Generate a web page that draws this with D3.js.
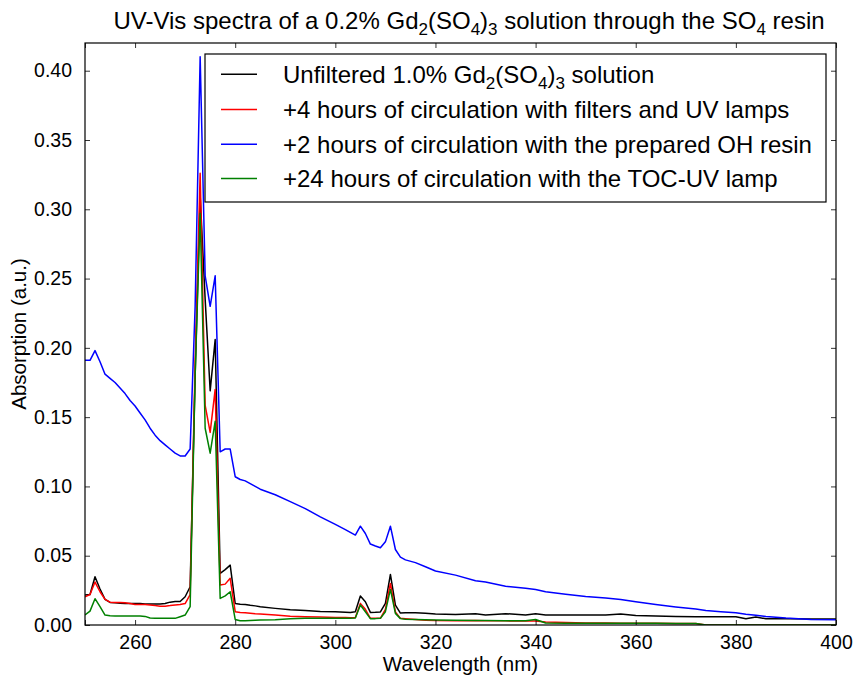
<!DOCTYPE html>
<html>
<head>
<meta charset="utf-8">
<script src="https://cdn.jsdelivr.net/npm/d3@7"></script>
<style>
  body { margin: 0; background: #fff; }
  svg { display: block; }
  text { font-family: "Liberation Sans", Arial, sans-serif; fill: #000; }
</style>
</head>
<body>
<svg id="chart" width="857" height="677"></svg>
<script>
// ---------- data ----------
const wavelength = [250,251,252,253,254,255,256,257,258,259,260,261,262,263,264,265,266,267,268,269,270,271,272,273,274,275,276,277,278,279,280,281,282,283,284,285,288,291,294,297,300,302,303,304,305,306,307,308,309,310,311,312,313,314,316,318,320,324,328,330,334,338,340,342,346,350,354,357,360,364,368,372,374,377,380,382,384,386,390,395,400];

const unfiltered = [0.0216,0.022,0.0348,0.026,0.0185,0.0163,0.016,0.0157,0.0155,0.0155,0.0155,0.0155,0.0152,0.0152,0.0152,0.0152,0.0155,0.0165,0.017,0.017,0.0204,0.0276,0.18,0.31,0.235,0.169,0.206,0.0372,0.040,0.0432,0.0155,0.015,0.0148,0.0142,0.0138,0.0132,0.012,0.011,0.0105,0.0098,0.0095,0.0092,0.0091,0.0095,0.0209,0.0168,0.0091,0.0092,0.0094,0.0156,0.0365,0.0144,0.0086,0.0088,0.0088,0.0085,0.008,0.0075,0.0082,0.0072,0.0082,0.0072,0.0082,0.0072,0.0072,0.0072,0.0072,0.008,0.0068,0.0065,0.0062,0.006,0.006,0.006,0.006,0.0045,0.0058,0.0045,0.0045,0.0044,0.0044];

const filtersUV = [0.0204,0.022,0.031,0.024,0.0185,0.0165,0.0163,0.0163,0.016,0.0155,0.0148,0.0148,0.0148,0.0145,0.014,0.0136,0.0136,0.014,0.0145,0.0148,0.0155,0.022,0.19,0.326,0.1585,0.139,0.17,0.0288,0.0295,0.0337,0.0096,0.009,0.0088,0.0085,0.0082,0.008,0.0072,0.0064,0.006,0.0058,0.0055,0.0054,0.0053,0.0055,0.0156,0.0113,0.0048,0.0048,0.0048,0.0113,0.030,0.0094,0.0048,0.0045,0.004,0.0035,0.0032,0.003,0.0032,0.003,0.003,0.0028,0.0028,0.0022,0.0018,0.0015,0.0014,0.0012,0.0013,0.0012,0.0011,0.001,0,0,0,0,0,0,0,0,0];

const ohResin = [0.191,0.191,0.198,0.190,0.181,0.178,0.175,0.171,0.167,0.162,0.158,0.153,0.148,0.142,0.137,0.133,0.130,0.127,0.124,0.122,0.122,0.127,0.23,0.41,0.252,0.23,0.252,0.125,0.127,0.127,0.107,0.105,0.104,0.102,0.100,0.098,0.094,0.089,0.084,0.078,0.0726,0.0688,0.0668,0.0649,0.0713,0.066,0.0584,0.057,0.0557,0.060,0.0713,0.0545,0.049,0.047,0.045,0.042,0.039,0.036,0.032,0.031,0.028,0.0265,0.0256,0.024,0.0222,0.0205,0.0195,0.0184,0.0168,0.0148,0.013,0.0115,0.0105,0.0096,0.0088,0.0078,0.007,0.0062,0.005,0.004,0.0038];

const tocUV = [0.0072,0.010,0.019,0.0132,0.0072,0.0066,0.0065,0.0065,0.0065,0.0065,0.0065,0.0065,0.0062,0.005,0.0048,0.0048,0.0048,0.0048,0.0048,0.006,0.0072,0.0132,0.18,0.297,0.142,0.124,0.147,0.0192,0.021,0.024,0.004,0.003,0.003,0.0032,0.0034,0.0036,0.0038,0.0045,0.0048,0.0048,0.0048,0.0048,0.0048,0.005,0.0144,0.0096,0.0046,0.0046,0.0048,0.0096,0.0257,0.0084,0.0046,0.0042,0.004,0.0038,0.0036,0.0034,0.0032,0.0032,0.003,0.003,0.004,0.0014,0.0012,0.0012,0.0012,0.0012,0.0012,0.0012,0.0011,0.001,0,0,0,0,0,0,0,0,0];

const xTicks = [250,260,280,300,320,340,360,380,400];
const xTickLabels = ["","260","280","300","320","340","360","380","400"];
const yTicks = [0,0.05,0.10,0.15,0.20,0.25,0.30,0.35,0.40];
const yTickLabels = ["0.00","0.05","0.10","0.15","0.20","0.25","0.30","0.35","0.40"];

const seriesColors = ["#000000","#ff0000","#0000ff","#008000"];

// ---------- layout ----------
const svg = d3.select("#chart");
const L = 85, R = 836, T = 43, B = 625;
const x = d3.scaleLinear().domain([250, 400]).range([L, R]);
const y = d3.scaleLinear().domain([0, 0.42]).range([B, T]);

const seriesData = [unfiltered, filtersUV, ohResin, tocUV];

svg.append("defs").append("clipPath").attr("id","clip")
  .append("rect").attr("x", L).attr("y", T).attr("width", R - L).attr("height", B - T);

const line = d3.line().x(d => x(d[0])).y(d => y(d[1]));
const plot = svg.append("g").attr("clip-path","url(#clip)");
seriesData.forEach((vals, i) => {
  plot.append("path")
    .datum(wavelength.map((w, j) => [w, vals[j]]))
    .attr("fill","none")
    .attr("stroke", seriesColors[i])
    .attr("stroke-width", 1.5)
    .attr("stroke-linejoin","round")
    .attr("d", line);
});

// axes (ticks inside, all four sides)
const tickFont = 19.5;
const axB = d3.axisBottom(x).tickValues(xTicks).tickSizeInner(-5).tickSizeOuter(0)
  .tickPadding(10).tickFormat((d, i) => xTickLabels[i]);
const gB = svg.append("g").attr("transform", `translate(0,${B})`).call(axB);
const axT = d3.axisTop(x).tickValues(xTicks).tickSizeInner(-5).tickSizeOuter(0).tickFormat("");
const gT = svg.append("g").attr("transform", `translate(0,${T})`).call(axT);
const axLft = d3.axisLeft(y).tickValues(yTicks).tickSizeInner(-5).tickSizeOuter(0)
  .tickPadding(13).tickFormat((d, i) => yTickLabels[i]);
const gL = svg.append("g").attr("transform", `translate(${L},0)`).call(axLft);
const axRt = d3.axisRight(y).tickValues(yTicks).tickSizeInner(-5).tickSizeOuter(0).tickFormat("");
const gR = svg.append("g").attr("transform", `translate(${R},0)`).call(axRt);
[gB, gT, gL, gR].forEach(g => {
  g.select(".domain").remove();
  g.selectAll(".tick line").attr("stroke","#000").attr("stroke-width",0.8);
  g.selectAll(".tick text").attr("font-size", tickFont).attr("font-family","Liberation Sans, Arial, sans-serif").attr("fill","#000");
});
svg.append("rect").attr("x", L).attr("y", T).attr("width", R - L).attr("height", B - T)
  .attr("fill","none").attr("stroke","#000").attr("stroke-width",1.2);

// axis titles
svg.append("text").attr("x", (L + R) / 2).attr("y", 671).attr("text-anchor","middle")
  .attr("font-size", 20.5).text("Wavelength (nm)");
svg.append("text").attr("transform", `translate(26,${(T + B) / 2}) rotate(-90)`)
  .attr("text-anchor","middle").attr("font-size", 20.5).text("Absorption (a.u.)");

// title with subscripts
function richText(t, parts, subSize, shift) {
  parts.forEach((p, k) => {
    if (k % 2 === 1) {
      t.append("tspan").attr("font-size", subSize).attr("dy", shift).text(p);
    } else {
      const ts = t.append("tspan").text(p);
      if (k > 0) ts.attr("dy", -shift);
    }
  });
}
const title = svg.append("text").attr("x", 469).attr("y", 29).attr("text-anchor","middle").attr("font-size", 24);
richText(title, ["UV-Vis spectra of a 0.2% Gd", "2", "(SO", "4", ")", "3", " solution through the SO", "4", " resin"], 17, 6);

// legend
const legendLabels = [
  ["Unfiltered 1.0% Gd", "2", "(SO", "4", ")", "3", " solution"],
  ["+4 hours of circulation with filters and UV lamps"],
  ["+2 hours of circulation with the prepared OH resin"],
  ["+24 hours of circulation with the TOC-UV lamp"]
];
const lg = svg.append("g");
lg.append("rect").attr("x", 205).attr("y", 54).attr("width", 621).attr("height", 148)
  .attr("fill","#fff").attr("stroke","#000").attr("stroke-width",1.2);
const rowY = [74.3, 109.5, 144.3, 178.5];
legendLabels.forEach((parts, i) => {
  lg.append("line").attr("x1", 221).attr("x2", 257).attr("y1", rowY[i]).attr("y2", rowY[i])
    .attr("stroke", seriesColors[i]).attr("stroke-width", 1.5);
  const t = lg.append("text").attr("x", 283).attr("y", rowY[i] + 8.5).attr("font-size", 24);
  richText(t, parts, 17, 6);
});
</script>
</body>
</html>
